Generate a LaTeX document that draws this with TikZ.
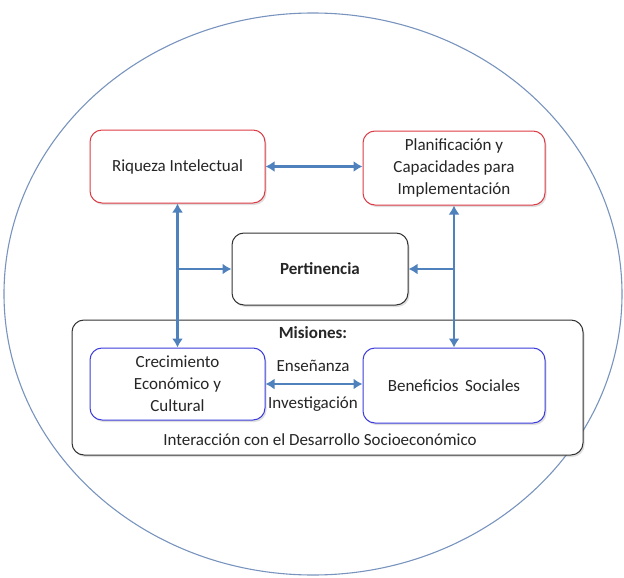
\documentclass[tikz,border=0pt]{standalone}
\usepackage{fontspec}
\setmainfont{Carlito}
\usetikzlibrary{arrows.meta,shadows}

\definecolor{flecha}{RGB}{79,129,189}
\definecolor{borde}{RGB}{120,148,190}
\definecolor{rojo}{RGB}{220,60,70}
\definecolor{azul}{RGB}{60,60,220}
\definecolor{texto}{RGB}{38,38,38}

\tikzset{
  caja/.style={draw, rounded corners=12pt, fill=white, line width=1pt,
    align=center, text=texto, font=\fontsize{17}{22}\selectfont,
    drop shadow={opacity=0.25, shadow xshift=1.5pt, shadow yshift=-2pt}},
  cajaroja/.style={caja, draw=rojo},
  cajaazul/.style={caja, draw=azul},
  cajanegra/.style={caja, draw=black!80},
  conector/.style={draw=flecha, line width=2.8pt,
    arrows={-Latex[length=9pt,width=11pt]}},
  doble/.style={conector, arrows={Latex[length=9pt,width=11pt]-Latex[length=9pt,width=11pt]}},
  rotulo/.style={text=texto, font=\fontsize{17}{22}\selectfont}
}

\begin{document}
\begin{tikzpicture}[x=1pt,y=-1pt]
  \useasboundingbox (0,0) rectangle (624,578);

  % outer ellipse
  \draw[borde, line width=1.1pt] (313,294) ellipse [x radius=309, y radius=281];

  % Draw nodes
  \node[cajanegra, minimum width=511pt, minimum height=135pt] (misiones) at (327.5,387.5) {};
  \node[rotulo, font=\fontsize{17}{22}\selectfont\bfseries] (titulo) at (313,333) {Misiones:};
  \node[rotulo] (interaccion) at (320,440) {Interacción con el Desarrollo Socioeconómico};

  \node[cajaroja, minimum width=175pt, minimum height=73pt] (riqueza) at (177.5,166.5) {Riqueza Intelectual};
  \node[cajaroja, minimum width=182pt, minimum height=74pt] (planif) at (454,168) {Planificación y\\Capacidades para\\Implementación};
  \node[cajanegra, minimum width=176pt, minimum height=72pt, font=\fontsize{17}{22}\selectfont\bfseries] (pert) at (320,269) {Pertinencia};
  \node[cajaazul, minimum width=175pt, minimum height=72pt] (crec) at (177.5,384) {Crecimiento\\Económico y\\Cultural};
  \node[cajaazul, minimum width=182pt, minimum height=75pt] (benef) at (454,385.5) {Beneficios\, Sociales};

  \node[rotulo] (ensenanza) at (313,366) {Enseñanza};
  \node[rotulo] (investig) at (313,404) {Investigación};

  % Draw arrows
  \coordinate (izq) at (riqueza.south |- pert.west);
  \coordinate (der) at (planif.south |- pert.east);
  \draw[doble] (riqueza.east) -- (planif.west |- riqueza.east);
  \draw[doble] (riqueza.south) -- (crec.north);
  \draw[doble] (planif.south) -- (benef.north);
  \draw[conector] (izq) -- (pert.west);
  \draw[conector] (der) -- (pert.east);
  \draw[doble] (crec.east) -- (benef.west |- crec.east);
\end{tikzpicture}
\end{document}
